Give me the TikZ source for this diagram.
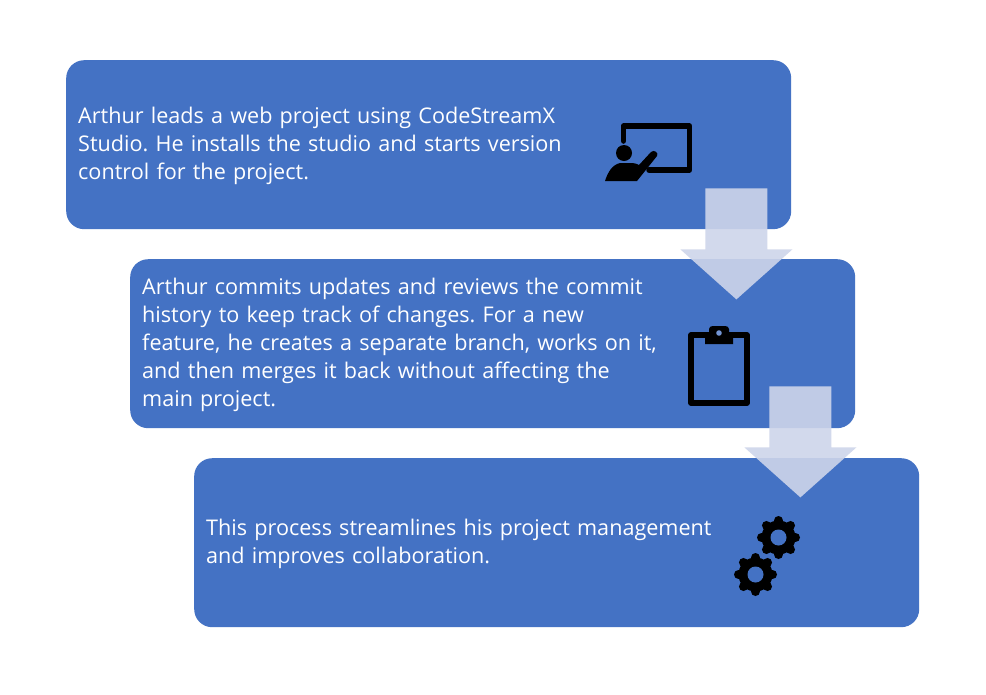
\documentclass[tikz,border=0pt]{standalone}
\usetikzlibrary{calc}
\usepackage{fontspec}
\setmainfont{Open Sans}
\frenchspacing
\definecolor{boxblue}{HTML}{4472C4}
\definecolor{arrowtint}{HTML}{CED5EA}
\tikzset{
  stepbox/.style={draw=none,fill=boxblue,rounded corners=18pt,minimum width=725pt,minimum height=169pt,
    inner sep=0pt,anchor=north west},
  steptext/.style={text width=701pt,inner sep=0pt,align=left,text=white,font=\fontsize{21.6}{28}\selectfont,anchor=center,yshift=-1pt},
  flowarrow/.style={fill=arrowtint,fill opacity=.9,draw=none},
  iconline/.style={draw=black,line width=5.5pt,line join=round,line cap=round},
  iconfill/.style={fill=black,draw=none},
  toothline/.style={draw=black,line width=9pt,line cap=round}
}
\newcommand{\gearicon}[1]{%
  \foreach \a in {0,45,...,315}{\draw[toothline] (#1) ++(\a:12pt) -- ++(\a:5pt);}
  \fill[black] (#1) circle[radius=17pt];
  \fill[boxblue] (#1) circle[radius=8pt];
}
\newcommand{\blockarrow}[1]{%
  \path[flowarrow] (#1) ++(-31,0) -- ++(62,0) -- ++(0,61) -- ++(25,0) -- ++(-56,50) -- ++(-56,-50) -- ++(25,0) -- cycle;
}
\begin{document}
\begin{tikzpicture}[x=1pt,y=-1pt]
\useasboundingbox (0,0) rectangle (986,694);
\fill[white] (0,0) rectangle (986,694);
\node[stepbox] (b1) at (66,60) {};
\node[stepbox] (b2) at (130,259) {};
\node[stepbox] (b3) at (194,458) {};
\node[steptext] (t1) at (b1.center) {Arthur leads a web project using CodeStreamX\\Studio. He installs the studio and starts version\\control for the project.};
\node[steptext] (t2) at (b2.center) {Arthur commits updates and reviews the commit\\history to keep track of changes. For a new\\feature, he creates a separate branch, works on it,\\and then merges it back without affecting the\\main project.};
\node[steptext] (t3) at (b3.center) {This process streamlines his project management\\and improves collaboration.};
% presenter icon
\draw[iconline] (623.5,141) -- (623.5,126) -- (689.5,126) -- (689.5,170) -- (649,170);
\fill[black] (624,153) circle[radius=8pt];
\path[iconfill] (605,181) .. controls (608,172) and (612,165) .. (620,163) -- (632,163)
  .. controls (635,163) and (637,164) .. (639,165) -- (651,152)
  .. controls (654,149) and (659,153) .. (657,156) -- (637,181) -- cycle;
% clipboard icon
\draw[iconline] (691,335) rectangle (747,403);
\path[iconfill] (705,344) -- (705,332) -- (709,332) -- (709,329) .. controls (709,327) and (711,326) .. (713,326)
  -- (725,326) .. controls (727,326) and (729,327) .. (729,329) -- (729,332) -- (733,332) -- (733,344) -- cycle;
\fill[boxblue!75!white] (719,333) circle[radius=2.8pt];
% gears
\coordinate (g1) at (778.5,537.5);
\coordinate (g2) at (755.5,574.5);
\gearicon{g1}
\gearicon{g2}
% arrows
\coordinate (a1) at ($(b1.south east)+(-55,-41)$);
\coordinate (a2) at ($(b2.south east)+(-55,-42)$);
\blockarrow{a1}
\blockarrow{a2}
\end{tikzpicture}
\end{document}
